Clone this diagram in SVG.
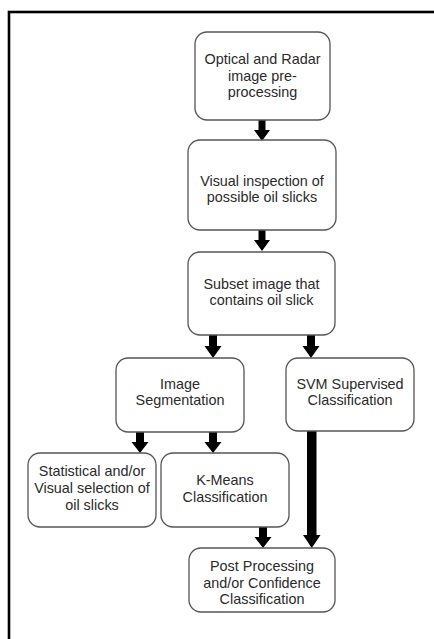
<svg xmlns="http://www.w3.org/2000/svg" width="434" height="639" viewBox="0 0 434 639">
<style>
.box{fill:#fff;stroke:#555;stroke-width:1.3}
text{font-family:"Liberation Sans",Arial,sans-serif;font-size:14.4px;fill:#2a2a2a;text-anchor:middle}
.arr{fill:#000}
</style>
<rect x="0" y="0" width="434" height="639" fill="#fff"/>
<rect x="9" y="12" width="500" height="700" fill="none" stroke="#000" stroke-width="2.6"/>
<g id="connectors">
<polygon class="arr" points="258.5,120 265.5,120 265.5,130 270,130 262,141 254,130 258.5,130"/>
<polygon class="arr" points="258.5,230 265.5,230 265.5,240 270,240 262,251 254,240 258.5,240"/>
<polygon class="arr" points="209,335 217,335 217,346 221.5,346 213,358 204.5,346 209,346"/>
<polygon class="arr" points="307,335 315,335 315,346 319.5,346 311,358 302.5,346 307,346"/>
<polygon class="arr" points="136,432 144,432 144,442 148.5,442 140,453 131.5,442 136,442"/>
<polygon class="arr" points="209,432 217,432 217,442 221.5,442 213,453 204.5,442 209,442"/>
<polygon class="arr" points="307,431 316.5,431 316.5,535 320.5,535 311.75,548 303,535 307,535"/>
<polygon class="arr" points="259,527 267,527 267,537 271.5,537 263,548 254.5,537 259,537"/>
</g>
<g id="n1"><rect class="box" x="195" y="32" width="135" height="88" rx="12"/>
<text x="262.5" y="64">Optical and Radar</text><text x="262.5" y="80.5">image pre-</text><text x="262.5" y="97">processing</text></g>
<g id="n2"><rect class="box" x="188" y="140" width="148" height="90" rx="12"/>
<text x="262" y="186">Visual inspection of</text><text x="262" y="202">possible oil slicks</text></g>
<g id="n3"><rect class="box" x="188" y="252" width="147" height="83" rx="12"/>
<text x="261.5" y="289">Subset image that</text><text x="261.5" y="305">contains oil slick</text></g>
<g id="n4"><rect class="box" x="116" y="358" width="128" height="74" rx="12"/>
<text x="180" y="389">Image</text><text x="180" y="405">Segmentation</text></g>
<g id="n5"><rect class="box" x="286" y="358" width="128" height="73" rx="12"/>
<text x="350" y="389">SVM Supervised</text><text x="350" y="405">Classification</text></g>
<g id="n6"><rect class="box" x="28" y="453" width="128" height="74" rx="12"/>
<text x="92" y="476">Statistical and/or</text><text x="92" y="493">Visual selection of</text><text x="92" y="510">oil slicks</text></g>
<g id="n7"><rect class="box" x="161" y="453" width="128" height="74" rx="12"/>
<text x="225" y="485">K-Means</text><text x="225" y="502">Classification</text></g>
<g id="n8"><rect class="box" x="189" y="548" width="146" height="64" rx="12"/>
<text x="262" y="571">Post Processing</text><text x="262" y="587.5">and/or Confidence</text><text x="262" y="604">Classification</text></g>
</svg>
